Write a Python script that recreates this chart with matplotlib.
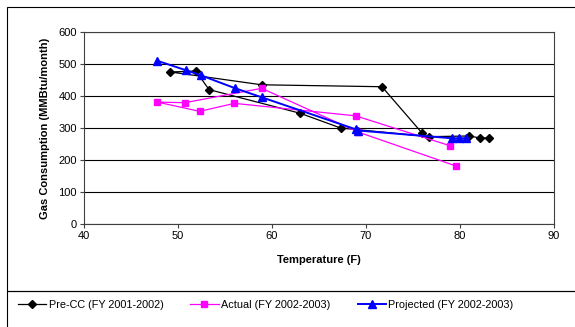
import matplotlib.pyplot as plt
from matplotlib.patches import Rectangle

plt.rcParams["font.family"] = ["Liberation Sans", "DejaVu Sans"]

# Pre-CC (FY 2001-2002), in connection order
pre_temp = [76.0, 71.7, 58.9, 49.2, 51.9, 53.3, 63.0, 67.3, 76.7, 81.0, 82.1, 83.1]
pre_gas = [283, 429, 435, 475, 478, 420, 346, 300, 273, 275, 269, 269]

# Actual (FY 2002-2003)
act_temp = [78.9, 68.9, 56.0, 52.3, 47.8, 50.7, 58.9, 69.2, 79.6]
act_gas = [245, 338, 377, 352, 381, 379, 424, 287, 181]

# Projected (FY 2002-2003)
proj_temp = [47.8, 50.8, 52.4, 56.1, 58.9, 68.9, 69.2, 79.1, 79.9, 80.6]
proj_gas = [510, 481, 465, 424, 396, 296, 292, 268, 268, 268]


def main():
    fig = plt.figure(figsize=(5.75, 3.27), dpi=100)
    ax = fig.add_axes([84 / 575, 1 - 224 / 327, 470 / 575, 192 / 327])

    ax.plot(pre_temp, pre_gas, color="black", lw=0.9, marker="D", ms=4.5,
            label="Pre-CC (FY 2001-2002)", zorder=3)
    ax.plot(act_temp, act_gas, color="#FF00FF", lw=0.9, marker="s", ms=5,
            label="Actual (FY 2002-2003)", zorder=4)
    ax.plot(proj_temp, proj_gas, color="#0000FF", lw=1.4, marker="^", ms=5.5,
            label="Projected (FY 2002-2003)", zorder=5)

    ax.set_xlim(40, 90)
    ax.set_ylim(0, 600)
    ax.set_xticks(range(40, 91, 10))
    ax.set_yticks(range(0, 601, 100))
    ax.yaxis.grid(True, color="black", lw=0.8)
    ax.set_axisbelow(True)
    for s in ["top", "right", "left", "bottom"]:
        ax.spines[s].set_color("#404040")
        ax.spines[s].set_linewidth(0.8)
    ax.tick_params(labelsize=8, length=3, color="#404040", pad=2)

    ax.set_xlabel("Temperature (F)", fontsize=8, fontweight="bold", labelpad=10)
    ax.set_ylabel("Gas Consumption (MMBtu/month)", fontsize=8,
                  fontweight="bold", labelpad=6)

    # chart frame and legend frame (right edge runs off the picture)
    fig.patches.append(Rectangle((7 / 575, 1 - 291 / 327), 0.99, 284 / 327,
                                 transform=fig.transFigure, fill=False,
                                 ec="black", lw=0.8))
    fig.patches.append(Rectangle((7 / 575, -0.01), 0.99, 1 - 291 / 327 + 0.01,
                                 transform=fig.transFigure, fill=False,
                                 ec="black", lw=0.8))

    handles, labels = ax.get_legend_handles_labels()
    fig.legend(handles, labels, loc="center", bbox_to_anchor=(0.462, 1 - 305 / 327),
               ncol=3, frameon=False, fontsize=7.8, handlelength=2.6,
               columnspacing=2.5, handletextpad=0.25)

    fig.savefig("out.png", dpi=100)


if __name__ == "__main__":
    main()
